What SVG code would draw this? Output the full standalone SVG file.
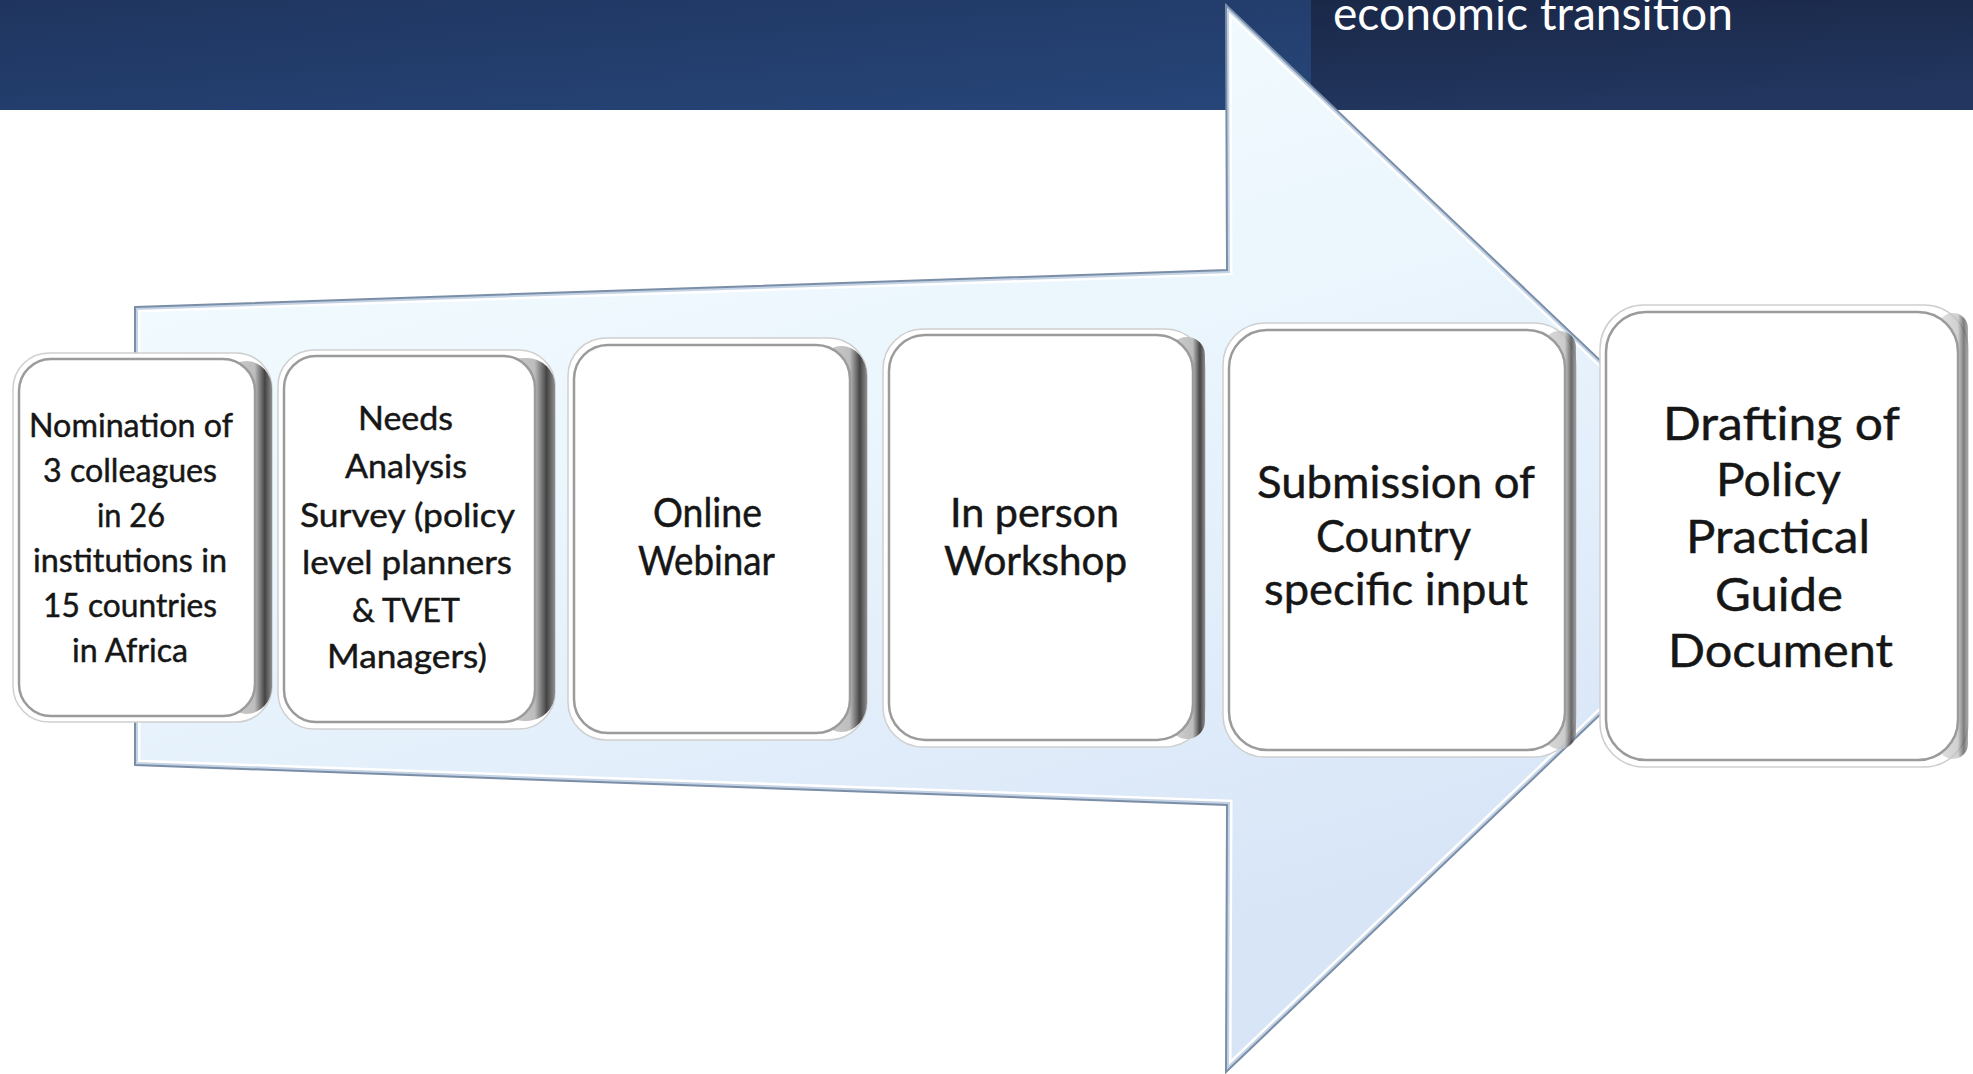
<svg xmlns="http://www.w3.org/2000/svg" xmlns:xlink="http://www.w3.org/1999/xlink" width="1973" height="1074" viewBox="0 0 1973 1074">
  <defs>
    <style>
      .rim { fill: #ffffff; stroke: #cfcfcf; stroke-width: 1.5; }
      .side { fill: url(#sideGrad); }
      .face { fill: #ffffff; stroke: #9b9b9b; stroke-width: 2.5; }
      .lbl { font-family: Lato, "Open Sans", "Liberation Sans", sans-serif; fill: #161616; stroke: #161616; stroke-width: 0.45; }
      .s32 { font-size: 32px; }
      .s40 { font-size: 40px; }
      .s45 { font-size: 45px; }
      .s46 { font-size: 46px; }
      .title { font-family: Lato, "Open Sans", "Liberation Sans", sans-serif; font-size: 47px; fill: #ffffff; }
    </style>
    <linearGradient id="hdrLeft" x1="0" y1="0" x2="1" y2="1">
      <stop offset="0" stop-color="#1f355f"/>
      <stop offset="1" stop-color="#27467a"/>
    </linearGradient>
    <linearGradient id="hdrRight" x1="0" y1="0" x2="0.3" y2="1">
      <stop offset="0" stop-color="#1a2848"/>
      <stop offset="1" stop-color="#22365f"/>
    </linearGradient>
    <linearGradient id="arrowFill" gradientUnits="userSpaceOnUse" x1="400" y1="0" x2="700" y2="1074">
      <stop offset="0" stop-color="#f6fdff"/>
      <stop offset="0.45" stop-color="#ebf6fd"/>
      <stop offset="1" stop-color="#d8e5f7"/>
    </linearGradient>
    <linearGradient id="sideGrad" x1="0" y1="0" x2="1" y2="0">
      <stop offset="0" stop-color="#d4d4d4"/>
      <stop offset="0.66" stop-color="#bdbdbd"/>
      <stop offset="0.86" stop-color="#444444"/>
      <stop offset="1" stop-color="#8e8e8e"/>
    </linearGradient>
    <polygon id="arrowShape" points="135,307 1227,270 1226,5 1786,537 1226,1072 1227,805 135,765"/>
    <clipPath id="arrowClip">
      <use xlink:href="#arrowShape"/>
    </clipPath>
  </defs>

  <!-- page -->
  <rect x="0" y="0" width="1973" height="1074" fill="#ffffff"/>

  <!-- title band -->
  <g id="header">
    <rect x="0" y="0" width="1311" height="110" fill="url(#hdrLeft)"/>
    <rect x="1311" y="0" width="662" height="110" fill="url(#hdrRight)"/>
    <text class="title" x="1333" y="30" textLength="400" lengthAdjust="spacingAndGlyphs">economic transition</text>
  </g>

  <!-- process arrow behind the steps -->
  <g id="connectors">
    <use xlink:href="#arrowShape" fill="url(#arrowFill)"/>
    <g clip-path="url(#arrowClip)" fill="none">
      <use xlink:href="#arrowShape" stroke="#ffffff" stroke-width="11"/>
      <use xlink:href="#arrowShape" stroke="#c3d2e4" stroke-width="6"/>
    </g>
    <use xlink:href="#arrowShape" fill="none" stroke="#7a8ea7" stroke-width="2"/>
  </g>

  <!-- step 1 -->
  <g id="step1">
    <rect class="rim" x="13" y="353" width="259" height="369" rx="36"/>
    <rect class="side" x="221" y="361" width="51" height="353" rx="28"/>
    <rect class="face" x="19" y="359" width="236" height="357" rx="32"/>
    <g class="lbl s32">
      <text x="29" y="437" textLength="204" lengthAdjust="spacingAndGlyphs">Nomination of</text>
      <text x="43" y="482" textLength="174" lengthAdjust="spacingAndGlyphs">3 colleagues</text>
      <text x="97" y="527" textLength="68" lengthAdjust="spacingAndGlyphs">in 26</text>
      <text x="33" y="572" textLength="194" lengthAdjust="spacingAndGlyphs">institutions in</text>
      <text x="43" y="617" textLength="174" lengthAdjust="spacingAndGlyphs">15 countries</text>
      <text x="72" y="662" textLength="116" lengthAdjust="spacingAndGlyphs">in Africa</text>
    </g>
  </g>

  <!-- step 2 -->
  <g id="step2">
    <rect class="rim" x="278" y="350" width="277" height="379" rx="36"/>
    <rect class="side" x="495" y="358" width="60" height="363" rx="28"/>
    <rect class="face" x="284" y="356" width="251" height="366" rx="32"/>
    <g class="lbl s32">
      <text x="358" y="430" textLength="95" lengthAdjust="spacingAndGlyphs">Needs</text>
      <text x="345" y="478" textLength="122" lengthAdjust="spacingAndGlyphs">Analysis</text>
      <text x="300" y="527" textLength="215" lengthAdjust="spacingAndGlyphs">Survey (policy</text>
      <text x="302" y="574" textLength="210" lengthAdjust="spacingAndGlyphs">level planners</text>
      <text x="352" y="622" textLength="108" lengthAdjust="spacingAndGlyphs">&amp; TVET</text>
      <text x="327" y="668" textLength="160" lengthAdjust="spacingAndGlyphs">Managers)</text>
    </g>
  </g>

  <!-- step 3 -->
  <g id="step3">
    <rect class="rim" x="568" y="338" width="299" height="402" rx="38"/>
    <rect class="side" x="816" y="346" width="51" height="386" rx="30"/>
    <rect class="face" x="574" y="345" width="276" height="388" rx="34"/>
    <g class="lbl s40">
      <text x="653" y="527" textLength="109" lengthAdjust="spacingAndGlyphs">Online</text>
      <text x="638" y="575" textLength="137" lengthAdjust="spacingAndGlyphs">Webinar</text>
    </g>
  </g>

  <!-- step 4 -->
  <g id="step4">
    <rect class="rim" x="883" y="329" width="322" height="418" rx="40"/>
    <rect class="side" x="1169" y="337" width="36" height="402" rx="18"/>
    <rect class="face" x="889" y="335" width="304" height="405" rx="36"/>
    <g class="lbl s40">
      <text x="950" y="527" textLength="169" lengthAdjust="spacingAndGlyphs">In person</text>
      <text x="944" y="575" textLength="183" lengthAdjust="spacingAndGlyphs">Workshop</text>
    </g>
  </g>

  <!-- step 5 -->
  <g id="step5">
    <rect class="rim" x="1223" y="323" width="353" height="434" rx="42"/>
    <rect class="side" x="1543" y="331" width="33" height="418" rx="16" opacity="0.8"/>
    <rect class="face" x="1229" y="330" width="336" height="420" rx="38"/>
    <g class="lbl s45">
      <text x="1257" y="498" textLength="278" lengthAdjust="spacingAndGlyphs">Submission of</text>
      <text x="1316" y="552" textLength="155" lengthAdjust="spacingAndGlyphs">Country</text>
      <text x="1264" y="605" textLength="264" lengthAdjust="spacingAndGlyphs">specific input</text>
    </g>
  </g>

  <!-- step 6 -->
  <g id="step6">
    <rect class="rim" x="1600" y="305" width="368" height="462" rx="44"/>
    <rect class="side" x="1938" y="313" width="30" height="446" rx="15" opacity="0.7"/>
    <rect class="face" x="1606" y="312" width="352" height="448" rx="40"/>
    <g class="lbl s46">
      <text x="1663" y="440" textLength="237" lengthAdjust="spacingAndGlyphs">Drafting of</text>
      <text x="1716" y="496" textLength="125" lengthAdjust="spacingAndGlyphs">Policy</text>
      <text x="1686" y="553" textLength="184" lengthAdjust="spacingAndGlyphs">Practical</text>
      <text x="1715" y="611" textLength="128" lengthAdjust="spacingAndGlyphs">Guide</text>
      <text x="1668" y="667" textLength="225" lengthAdjust="spacingAndGlyphs">Document</text>
    </g>
  </g>
</svg>
